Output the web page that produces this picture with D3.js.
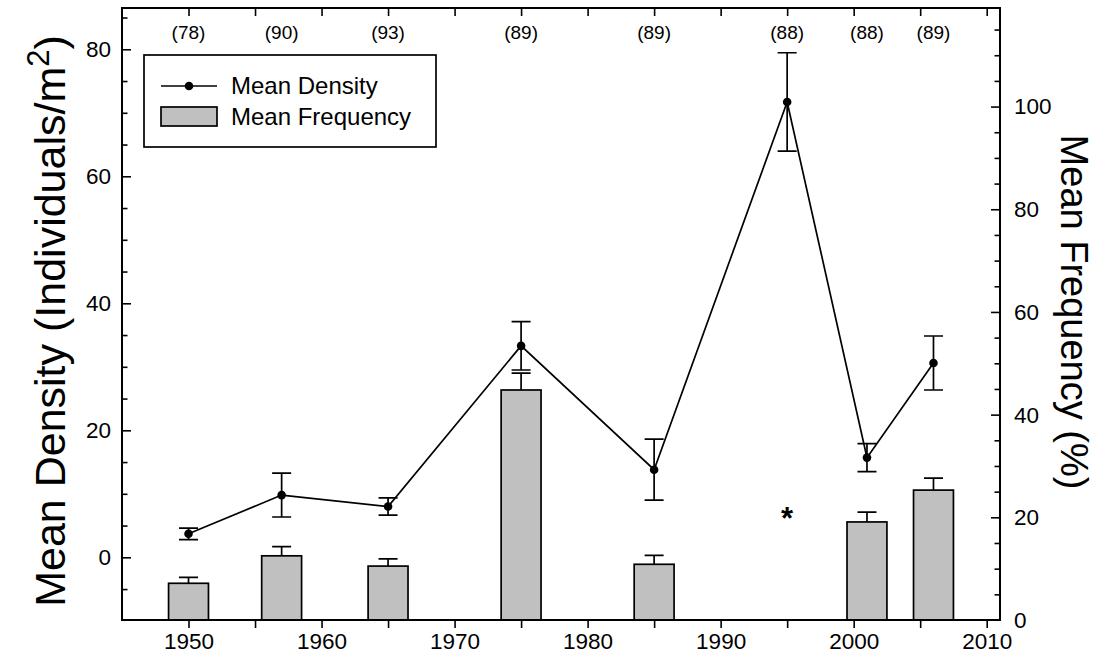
<!DOCTYPE html>
<head>
	<meta charset="utf-8">
	<style>
		body { margin: 0; background: #fff; }
		svg { display: block; font-family: "Liberation Sans", Arial, sans-serif; }
		.frame { fill: none; stroke: #000; stroke-width: 2px; }
		.tick-line { stroke: #000; stroke-width: 1.6px; }
		.tick-label { font-size: 22.5px; fill: #000; }
		.n-label { font-size: 19px; fill: #000; text-anchor: middle; }
		.bar { fill: #c0c0c0; stroke: #000; stroke-width: 1.7px; }
		.err { stroke: #000; stroke-width: 1.7px; fill: none; }
		.density-line { fill: none; stroke: #000; stroke-width: 1.7px; }
		.legend text { font-size: 24px; }
		.title { font-size: 43px; }
	</style>
	<title>Mean density and frequency</title>
	<script src="https://cdn.jsdelivr.net/npm/d3@7"></script>
</head>

<body>
	<div id="chart"></div>
	<script>
		// values
		var years = [1950, 1957, 1965, 1975, 1985, 1995, 2001, 2006];
		var sampleSizes = [78, 90, 93, 89, 89, 88, 88, 89];
		var density = [3.7, 9.8, 8.0, 33.3, 13.8, 71.7, 15.7, 30.6];
		var densitySE = [0.9, 3.45, 1.35, 3.8, 4.8, 7.75, 2.2, 4.25];
		var frequency = [7.15, 12.5, 10.5, 44.8, 10.85, null, 19.1, 25.3];
		var frequencySE = [1.15, 1.8, 1.4, 3.3, 1.75, null, 1.9, 2.35];
		var xTickLabels = [1950, 1960, 1970, 1980, 1990, 2000, 2010];
		var leftTickLabels = [0, 20, 40, 60, 80];
		var rightTickLabels = [0, 20, 40, 60, 80, 100];
		var starYear = 1995, starFreq = 17.7;

		var W = 1114, H = 668;
		var pLeft = 122, pRight = 1000, pTop = 8, pBottom = 620;

		var svg = d3.select("#chart").append("svg")
			.attr("width", W)
			.attr("height", H);

		var x = d3.scaleLinear().domain([1945, 2011]).range([pLeft, pRight]);
		var yL = d3.scaleLinear().domain([-9.87, 86.5]).range([pBottom, pTop]);
		var yR = d3.scaleLinear().domain([0, 119.2]).range([pBottom, pTop]);

		var rows = years.map(function (d, i) {
			return { year: d, n: sampleSizes[i], dens: density[i], dse: densitySE[i], freq: frequency[i], fse: frequencySE[i] };
		});

		// bars (frequency, right axis)
		var barRows = rows.filter(function (d) { return d.freq != null; });
		var halfBar = 1.5;
		var cap = 9.5;

		svg.selectAll(".bar-err")
			.data(barRows)
			.enter().append("path")
			.attr("class", "err")
			.attr("d", function (d) {
				var cx = x(d.year), y0 = yR(d.freq), y1 = yR(d.freq + d.fse);
				return "M" + cx + "," + y0 + "V" + y1 + "M" + (cx - cap) + "," + y1 + "H" + (cx + cap);
			});

		svg.selectAll(".bar")
			.data(barRows)
			.enter().append("rect")
			.attr("class", "bar")
			.attr("x", function (d) { return x(d.year - halfBar); })
			.attr("width", function (d) { return x(d.year + halfBar) - x(d.year - halfBar); })
			.attr("y", function (d) { return yR(d.freq); })
			.attr("height", function (d) { return yR(0) - yR(d.freq); });

		// density error bars
		svg.selectAll(".dens-err")
			.data(rows)
			.enter().append("path")
			.attr("class", "err")
			.attr("d", function (d) {
				var cx = x(d.year), y0 = yL(d.dens - d.dse), y1 = yL(d.dens + d.dse);
				return "M" + cx + "," + y0 + "V" + y1 +
					"M" + (cx - cap) + "," + y1 + "H" + (cx + cap) +
					"M" + (cx - cap) + "," + y0 + "H" + (cx + cap);
			});

		var line = d3.line()
			.x(function (d) { return x(d.year); })
			.y(function (d) { return yL(d.dens); });

		svg.append("path")
			.datum(rows)
			.attr("class", "density-line")
			.attr("d", line);

		svg.selectAll(".dot")
			.data(rows)
			.enter().append("circle")
			.attr("cx", function (d) { return x(d.year); })
			.attr("cy", function (d) { return yL(d.dens); })
			.attr("r", 4.3)
			.attr("fill", "#000");

		// asterisk where frequency was not measured
		svg.append("text")
			.attr("x", x(starYear))
			.attr("y", yR(starFreq))
			.attr("text-anchor", "middle")
			.style("font-size", "31px")
			.style("font-weight", "bold")
			.text("*");

		// sample sizes along the top
		svg.selectAll(".n-label")
			.data(rows)
			.enter().append("text")
			.attr("class", "n-label")
			.attr("x", function (d) { return x(d.year); })
			.attr("y", 39)
			.text(function (d) { return "(" + d.n + ")"; });

		// axes
		var xBottom = d3.axisBottom(x).tickValues(d3.range(1950, 2011, 5)).tickSize(8)
			.tickFormat(function (d) { return xTickLabels.indexOf(d) >= 0 ? d : ""; });
		var xTop = d3.axisBottom(x).tickValues(d3.range(1950, 2011, 5)).tickSize(8).tickFormat("");
		var yLeft = d3.axisRight(yL).tickValues(d3.range(-5, 86, 5)).tickFormat("");
		var yRight = d3.axisLeft(yR).tickValues(d3.range(5, 119, 5)).tickFormat("");

		function styleAxis(g) {
			g.select(".domain").remove();
			g.selectAll(".tick line").attr("class", "tick-line");
			g.selectAll(".tick text").attr("class", "tick-label");
			g.attr("font-family", null).attr("font-size", null);
		}

		svg.append("g")
			.attr("transform", "translate(0," + pBottom + ")")
			.call(xBottom)
			.call(styleAxis)
			.selectAll("text").attr("dy", null).attr("y", 29);

		svg.append("g")
			.attr("transform", "translate(0," + pTop + ")")
			.call(xTop)
			.call(styleAxis);

		svg.append("g")
			.attr("transform", "translate(" + pLeft + ",0)")
			.call(yLeft)
			.call(styleAxis)
			.selectAll(".tick line")
			.attr("x2", function (d) { return d % 20 === 0 ? 9 : 5.5; });

		svg.append("g")
			.attr("transform", "translate(" + pRight + ",0)")
			.call(yRight)
			.call(styleAxis)
			.selectAll(".tick line")
			.attr("x2", function (d) { return d % 20 === 0 ? -9 : -5.5; });

		svg.selectAll(".ylab-left")
			.data(leftTickLabels)
			.enter().append("text")
			.attr("class", "tick-label")
			.attr("x", pLeft - 11)
			.attr("y", function (d) { return yL(d); })
			.attr("dy", "0.35em")
			.attr("text-anchor", "end")
			.text(function (d) { return d; });

		svg.selectAll(".ylab-right")
			.data(rightTickLabels)
			.enter().append("text")
			.attr("class", "tick-label")
			.attr("x", pRight + 14)
			.attr("y", function (d) { return yR(d); })
			.attr("dy", "0.35em")
			.text(function (d) { return d; });

		svg.append("rect")
			.attr("class", "frame")
			.attr("x", pLeft)
			.attr("y", pTop)
			.attr("width", pRight - pLeft)
			.attr("height", pBottom - pTop);

		// axis titles
		var lt = svg.append("text")
			.attr("class", "title")
			.attr("transform", "translate(65,321) rotate(-90)")
			.attr("text-anchor", "middle");
		lt.append("tspan").text("Mean Density (Individuals/m");
		lt.append("tspan").attr("dy", -16).style("font-size", "31px").text("2");
		lt.append("tspan").attr("dy", 16).text(")");

		svg.append("text")
			.attr("class", "title")
			.attr("transform", "translate(1061,312) rotate(90)")
			.attr("text-anchor", "middle")
			.style("font-size", "38px")
			.text("Mean Frequency (%)");

		// legend
		var lg = svg.append("g").attr("class", "legend");
		lg.append("rect")
			.attr("x", 144).attr("y", 55).attr("width", 292).attr("height", 92)
			.attr("fill", "#fff").attr("stroke", "#000").attr("stroke-width", 1.7);
		lg.append("line")
			.attr("x1", 161).attr("x2", 217).attr("y1", 86).attr("y2", 86)
			.attr("stroke", "#000").attr("stroke-width", 1.7);
		lg.append("circle").attr("cx", 189).attr("cy", 86).attr("r", 4.3).attr("fill", "#000");
		lg.append("rect")
			.attr("class", "bar")
			.attr("x", 161).attr("y", 107).attr("width", 56).attr("height", 19);
		lg.append("text").attr("x", 231).attr("y", 94).text("Mean Density");
		lg.append("text").attr("x", 231).attr("y", 125).text("Mean Frequency");
	</script>
</body>
